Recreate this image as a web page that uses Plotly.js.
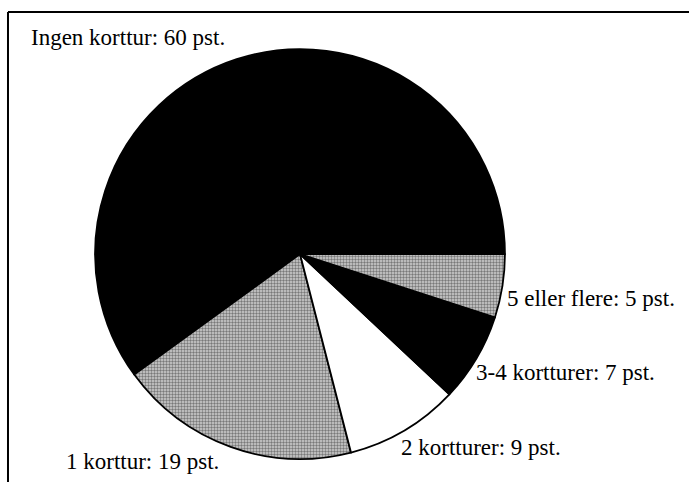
<!DOCTYPE html>
<html>
<head>
<meta charset="utf-8">
<script src="https://cdn.plot.ly/plotly-3.0.1.min.js"></script>
<style>html,body{margin:0;padding:0;background:#fff;}#chart{width:689px;height:482px;}</style>
</head>
<body>
<div id="chart"></div>
<script>
const categories = ["Ingen korttur", "1 korttur", "2 kortturer", "3-4 kortturer", "5 eller flere"];
const values = [60, 19, 9, 7, 5];
const sliceColors = ["#000000", "#b0b0b0", "#ffffff", "#000000", "#b0b0b0"];
const slicePatterns = ["", ".", "", "", "."];
// label placement (paper coords, left anchored)
const labelX = [0.0421, 0.0929, 0.5791, 0.688, 0.7329];
const labelY = [0.9232, 0.0415, 0.0726, 0.2282, 0.3817];

const annotations = categories.map((c, i) => ({
  text: c + ": " + values[i] + " pst.",
  x: labelX[i], y: labelY[i], xref: "paper", yref: "paper",
  xanchor: "left", yanchor: "middle", showarrow: false,
  font: {family: "Liberation Serif, Times New Roman, serif", size: 23, color: "#000"}
}));

const trace = {
  type: "pie",
  labels: categories,
  values: values,
  sort: false,
  direction: "counterclockwise",
  rotation: -126,
  textinfo: "none",
  hoverinfo: "label+value",
  marker: {
    colors: sliceColors,
    line: {color: "#000", width: 1.8},
    pattern: {shape: slicePatterns, fillmode: "overlay", fgcolor: "#222222", bgcolor: "#d0d0d0", size: 3, solidity: 0.5}
  },
  domain: {x: [0.1379, 0.733], y: [0.0477, 0.898]},
  showlegend: false
};

const layout = {
  width: 689, height: 482,
  margin: {l: 0, r: 0, t: 0, b: 0},
  paper_bgcolor: "#fff",
  showlegend: false,
  annotations: annotations,
  shapes: [
    {type: "line", xref: "paper", yref: "paper", x0: 0.0116, x1: 1, y0: 0.9751, y1: 0.9751, line: {color: "#000", width: 2}},
    {type: "line", xref: "paper", yref: "paper", x0: 0.0116, x1: 0.0116, y0: 0, y1: 0.9751, line: {color: "#000", width: 2}}
  ]
};

Plotly.newPlot("chart", [trace], layout, {displayModeBar: false, staticPlot: true});
</script>
</body>
</html>
